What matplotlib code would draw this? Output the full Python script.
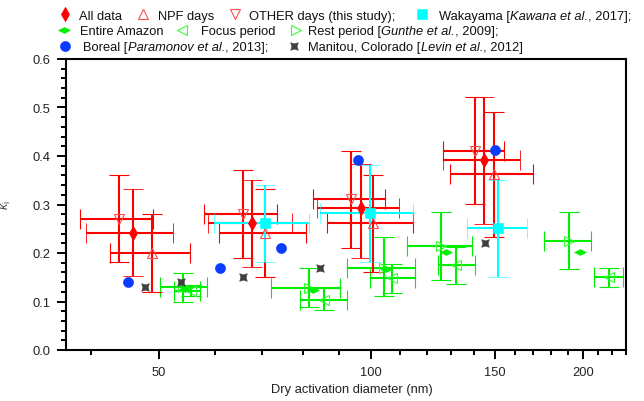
import matplotlib
matplotlib.use('Agg')
import matplotlib.pyplot as plt
from matplotlib.lines import Line2D
from matplotlib.path import Path
from matplotlib.ticker import FixedLocator, MultipleLocator, FormatStrFormatter, NullFormatter

plt.rcParams['font.family'] = ['Liberation Sans', 'DejaVu Sans']
plt.rcParams['font.size'] = 9.3
plt.rcParams['mathtext.fontset'] = 'custom'
plt.rcParams['mathtext.rm'] = 'Liberation Sans'
plt.rcParams['mathtext.it'] = 'Liberation Sans:italic'

# ---- this study (dry activation diameter nm, kappa) ----
all_d = [45.9, 67.8, 96.7, 144.6]
all_d_lo = [39.4, 58.6, 83.9, 126.5]
all_d_hi = [52.3, 77.1, 109.6, 162.6]
all_k = [0.241, 0.261, 0.292, 0.392]
all_k_lo = [0.152, 0.172, 0.190, 0.260]
all_k_hi = [0.332, 0.351, 0.383, 0.522]

npf_d = [48.9, 70.8, 100.6, 149.4]
npf_d_lo = [42.6, 60.9, 86.5, 129.3]
npf_d_hi = [55.3, 80.8, 114.7, 169.6]
npf_k = [0.201, 0.242, 0.262, 0.363]
npf_k_lo = [0.120, 0.151, 0.161, 0.232]
npf_k_hi = [0.280, 0.332, 0.361, 0.491]

oth_d = [43.9, 65.7, 93.7, 140.4]
oth_d_lo = [38.6, 58.0, 82.8, 126.5]
oth_d_hi = [49.1, 73.5, 104.7, 154.3]
oth_k = [0.270, 0.280, 0.311, 0.411]
oth_k_lo = [0.182, 0.190, 0.211, 0.301]
oth_k_hi = [0.361, 0.372, 0.411, 0.522]

# ---- Wakayama ----
wak_d = [70.8, 99.8, 151.4]
wak_d_lo = [59.9, 84.6, 136.6]
wak_d_hi = [81.7, 114.7, 166.2]
wak_k = [0.262, 0.282, 0.251]
wak_k_lo = [0.182, 0.182, 0.151]
wak_k_hi = [0.340, 0.382, 0.351]

# ---- Amazon (Gunthe) ----
amz_d = [54.5, 82.6, 104.9, 127.6, 198.2]
amz_k = [0.126, 0.124, 0.167, 0.203, 0.203]

foc_d = [55.5, 85.6, 107.2, 131.8, 217.4]
foc_d_lo = [52.6, 79.3, 99.6, 124.4, 207.0]
foc_d_hi = [57.1, 92.4, 115.6, 140.4, 227.7]
foc_k = [0.121, 0.104, 0.148, 0.176, 0.150]
foc_k_lo = [0.112, 0.083, 0.118, 0.136, 0.129]
foc_k_hi = [0.133, 0.127, 0.177, 0.213, 0.169]

rest_d = [54.0, 81.7, 104.3, 125.5, 191.2]
rest_d_lo = [50.1, 72.1, 92.4, 112.4, 175.8]
rest_d_hi = [58.4, 90.3, 115.3, 138.9, 205.3]
rest_k = [0.130, 0.128, 0.170, 0.215, 0.225]
rest_k_lo = [0.100, 0.089, 0.112, 0.145, 0.166]
rest_k_hi = [0.159, 0.169, 0.234, 0.285, 0.285]

# ---- Boreal / Manitou ----
bor_d = [45.2, 61.1, 74.6, 95.9, 150.0]
bor_k = [0.141, 0.170, 0.211, 0.392, 0.412]
man_d = [47.8, 53.8, 65.7, 84.7, 145.3]
man_k = [0.130, 0.141, 0.151, 0.170, 0.221]

x_major = [50, 100, 150, 200]
x_minor = [40, 60, 70, 80, 90, 110, 120, 130, 140, 160, 170, 180, 190, 210, 220, 230]

RED = '#ff0000'
RED_OPEN = '#ff4d4d'
CYAN = '#00ffff'
GREEN = '#00ee00'
GREEN_OPEN = '#33ff33'
BLUE = '#0a3cff'
GRAY = '#404040'

wide_diamond = Path([(-1, 0), (0, 0.5), (1, 0), (0, -0.5), (-1, 0)],
                    [Path.MOVETO, Path.LINETO, Path.LINETO, Path.LINETO, Path.CLOSEPOLY])
# square with pinched sides (Manitou marker)
star4 = Path([(-1, -1), (0, -0.68), (1, -1), (0.68, 0), (1, 1), (0, 0.68), (-1, 1), (-0.68, 0), (-1, -1)],
             [Path.MOVETO] + [Path.LINETO] * 7 + [Path.CLOSEPOLY])

styles = {
    'all': dict(marker='d', ms=7, mfc=RED, mec=RED, mew=0.6),
    'npf': dict(marker='^', ms=7, mfc='none', mec=RED_OPEN, mew=0.8),
    'oth': dict(marker='v', ms=7, mfc='none', mec=RED_OPEN, mew=0.8),
    'wak': dict(marker='s', ms=6.8, mfc=CYAN, mec=CYAN, mew=0.4),
    'amz': dict(marker=wide_diamond, ms=8.5, mfc=GREEN, mec=GREEN, mew=0.4),
    'foc': dict(marker='<', ms=7, mfc='none', mec=GREEN_OPEN, mew=0.8),
    'rest': dict(marker='>', ms=7, mfc='none', mec=GREEN_OPEN, mew=0.8),
    'bor': dict(marker='o', ms=7.3, mfc=BLUE, mec=BLUE, mew=0.4),
    'man': dict(marker=star4, ms=5.5, mfc=GRAY, mec=GRAY, mew=0.4),
}

fig = plt.figure(figsize=(6.44, 4.02), dpi=100)
W, H = 644.0, 402.0
ax = fig.add_axes([66 / W, 1 - 351 / H, 560 / W, 291 / H])


def errs(v, lo, hi):
    return [[a - b for a, b in zip(v, lo)], [c - a for a, c in zip(v, hi)]]


def ebar(x, y, xlo, xhi, ylo, yhi, key, color):
    ax.errorbar(x, y, xerr=errs(x, xlo, xhi), yerr=errs(y, ylo, yhi), ls='none',
                ecolor=color, elinewidth=1.5, capsize=7.3, capthick=1.5, **styles[key])


ebar(rest_d, rest_k, rest_d_lo, rest_d_hi, rest_k_lo, rest_k_hi, 'rest', GREEN)
ebar(foc_d, foc_k, foc_d_lo, foc_d_hi, foc_k_lo, foc_k_hi, 'foc', GREEN)
ax.plot(amz_d, amz_k, ls='none', zorder=2.1, **styles['amz'])
ebar(oth_d, oth_k, oth_d_lo, oth_d_hi, oth_k_lo, oth_k_hi, 'oth', RED)
ebar(npf_d, npf_k, npf_d_lo, npf_d_hi, npf_k_lo, npf_k_hi, 'npf', RED)
ebar(all_d, all_k, all_d_lo, all_d_hi, all_k_lo, all_k_hi, 'all', RED)
ebar(wak_d, wak_k, wak_d_lo, wak_d_hi, wak_k_lo, wak_k_hi, 'wak', CYAN)
ax.plot(bor_d, bor_k, ls='none', zorder=2.2, **styles['bor'])
ax.plot(man_d, man_k, ls='none', zorder=2.2, **styles['man'])

ax.set_xscale('log')
ax.set_xlim(36.9, 230)
ax.set_ylim(0, 0.6)
ax.xaxis.set_major_locator(FixedLocator(x_major))
ax.xaxis.set_minor_locator(FixedLocator(x_minor))
ax.xaxis.set_major_formatter(FormatStrFormatter('%d'))
ax.xaxis.set_minor_formatter(NullFormatter())
ax.yaxis.set_major_locator(MultipleLocator(0.1))
ax.yaxis.set_minor_locator(MultipleLocator(0.02))
ax.yaxis.set_major_formatter(FormatStrFormatter('%.1f'))
for s in ax.spines.values():
    s.set_linewidth(1.5)
ax.tick_params(which='major', direction='out', length=6.3, width=1.4, pad=5, labelsize=9.3,
               colors='black', labelcolor='#222222')
ax.tick_params(which='minor', direction='out', length=3.6, width=1.4)

ax.set_xlabel('Dry activation diameter (nm)', fontsize=9.3, color='#222222')
ax.xaxis.set_label_coords(0.511, -0.115)
ax.set_ylabel(r'$\kappa_{\mathrm{i}}$', fontsize=9, color='#444444')
ax.yaxis.set_label_coords(-0.095, 0.5)

# ---- legend laid out in three rows like the original ----
# each label is a list of (text, italic) pieces
legend_rows = [
    (15.0, [('all', 65, 79, [('All data', False)]),
            ('npf', 142.7, 158, [('NPF days', False)]),
            ('oth', 235, 249, [('OTHER days (this study);', False)]),
            ('wak', 421.7, 439, [('Wakayama [', False), ('Kawana et al.', True), (', 2017];', False)])]),
    (30.7, [('amz', 64.3, 80, [('Entire Amazon', False)]),
            ('foc', 181.7, 200.7, [('Focus period', False)]),
            ('rest', 295.7, 308.3, [('Rest period [', False), ('Gunthe et al.', True), (', 2009];', False)])]),
    (46.5, [('bor', 65, 83.3, [('Boreal [', False), ('Paramonov et al.', True), (', 2013];', False)]),
            ('man', 294, 308.3, [('Manitou, Colorado [', False), ('Levin et al.', True), (', 2012]', False)])]),
]
renderer = fig.canvas.get_renderer()
for ypx, items in legend_rows:
    for key, mx, tx, pieces in items:
        fig.add_artist(Line2D([mx / W], [1 - ypx / H], transform=fig.transFigure,
                              ls='none', **styles[key]))
        xpos = tx
        for txt, ital in pieces:
            t = fig.text(xpos / W, 1 - (ypx + 4.6) / H, txt, ha='left', va='baseline',
                         fontsize=9.3, color='#111111', style='italic' if ital else 'normal')
            xpos = t.get_window_extent(renderer).x1

fig.savefig('out.png', dpi=100)
